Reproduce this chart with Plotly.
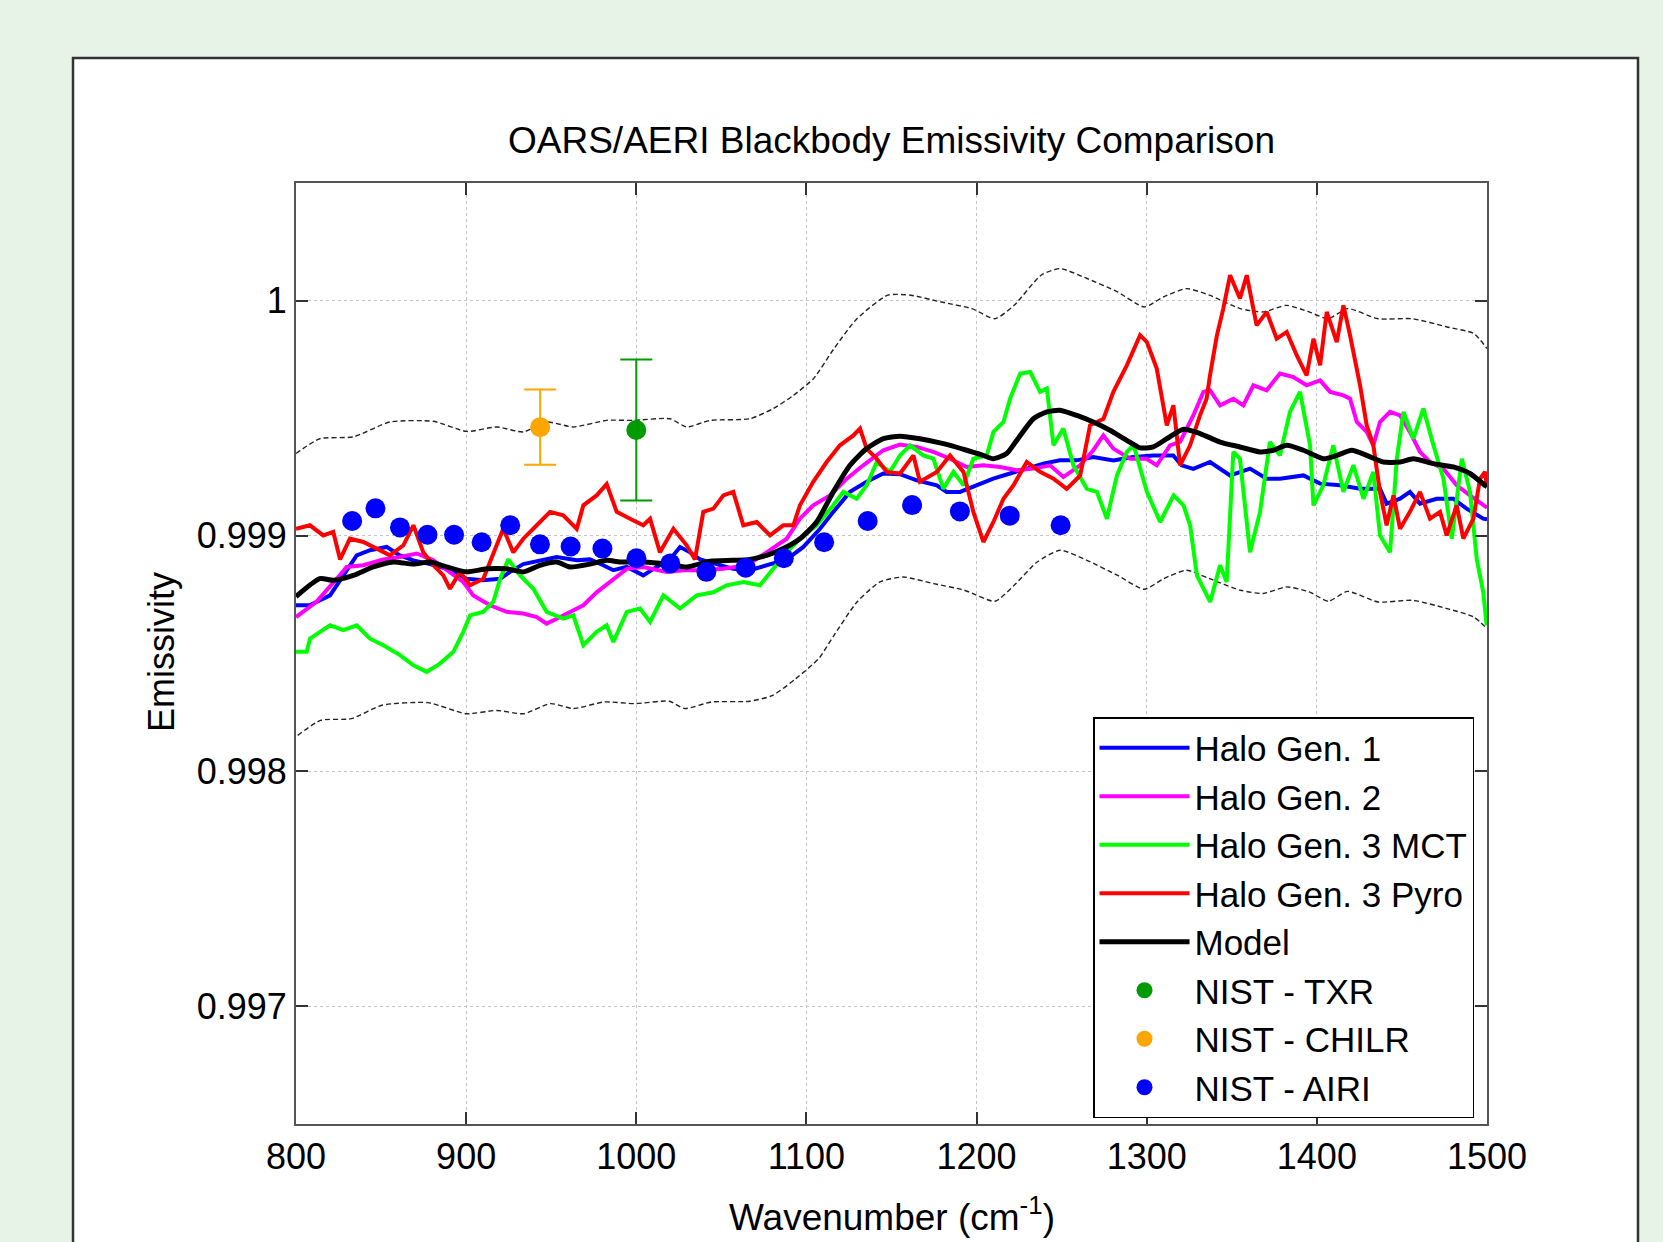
import plotly.graph_objects as go

# ---------------- data ----------------
gen1_wn = [800, 808, 820, 827.6, 835.7, 843.5, 853.3, 861, 869, 878.8, 888.6, 900.3, 910, 920, 925.8,
           933.6, 945.4, 953.2, 965, 972.8, 980.6, 986.5, 994.4, 1004.1, 1012, 1019.8, 1025.7, 1031.6,
           1037.5, 1047.3, 1057, 1066.8, 1076.6, 1088.4, 1098.2, 1108, 1115.8, 1125.6, 1135.4, 1145.2,
           1155, 1164.8, 1176.6, 1182.4, 1190.3, 1200, 1209.8, 1219.7, 1229.5, 1239.2, 1249, 1258.9,
           1268.6, 1280.4, 1292.1, 1303.9, 1315.6, 1320.5, 1327.4, 1337.2, 1349, 1360.7, 1370.5, 1378.3,
           1392.1, 1401.9, 1413.6, 1425.4, 1437.1, 1441, 1448.9, 1454.7, 1460.6, 1470.4, 1480.2, 1488,
           1497.8, 1500]
gen1_val = [0.998705, 0.998705, 0.998747, 0.998832, 0.998917, 0.998939, 0.998953, 0.998917, 0.998896,
            0.99888, 0.99886, 0.998818, 0.998811, 0.998818, 0.998847, 0.99888, 0.998896, 0.99891,
            0.998896, 0.9989, 0.998875, 0.998854, 0.998868, 0.998832, 0.998868, 0.9989, 0.998953,
            0.99893, 0.9989, 0.99888, 0.99886, 0.998854, 0.998875, 0.9989, 0.998953, 0.99903, 0.999102,
            0.999187, 0.99923, 0.999265, 0.999262, 0.999236, 0.999215, 0.999187, 0.999187, 0.999215,
            0.999243, 0.999265, 0.999286, 0.999307, 0.999321, 0.999321, 0.999335, 0.999321, 0.999335,
            0.999342, 0.999342, 0.9993, 0.999285, 0.999314, 0.999257, 0.999286, 0.999243, 0.999243,
            0.999257, 0.999222, 0.999215, 0.9992, 0.9992, 0.999137, 0.999158, 0.999187, 0.999137,
            0.999158, 0.999158, 0.999116, 0.999073, 0.99907]

gen2_wn = [800, 812, 824, 829.8, 839.6, 851.3, 861.1, 871, 880.7, 890.5, 898.3, 904.2, 914, 923.8, 933.6,
           941.5, 947.3, 953.2, 961, 968.9, 976.7, 986.5, 994.4, 1004.1, 1017.9, 1027.6, 1037.5, 1051.2,
           1064.9, 1076.6, 1088.4, 1096.2, 1104, 1113.9, 1123.7, 1133.4, 1145.2, 1155, 1164.8, 1174.6,
           1184.4, 1194.2, 1203.9, 1213.8, 1223.6, 1233.4, 1243.2, 1251, 1260.8, 1268.6, 1274.5, 1280.4,
           1290.2, 1300, 1305.9, 1313.7, 1319.6, 1327.4, 1333.3, 1337.2, 1343.1, 1350.9, 1356.8, 1362.7,
           1370.5, 1378.3, 1386.2, 1394, 1401.9, 1407.8, 1415.6, 1419.5, 1423.5, 1429.3, 1433.2, 1437.1,
           1443, 1448.9, 1454.7, 1460.6, 1466.5, 1474.3, 1482.2, 1490, 1497.8, 1500]
gen2_val = [0.998655, 0.99872, 0.998818, 0.998868, 0.998875, 0.9989, 0.99891, 0.998925, 0.998896,
            0.998847, 0.998804, 0.998747, 0.998705, 0.998677, 0.99867, 0.998655, 0.998627, 0.998648,
            0.998677, 0.998705, 0.99876, 0.998818, 0.99886, 0.998868, 0.998847, 0.998854, 0.998854,
            0.99886, 0.998875, 0.99893, 0.998988, 0.999073, 0.99913, 0.999172, 0.999243, 0.9993,
            0.999364, 0.999388, 0.999378, 0.999357, 0.999328, 0.999293, 0.9993, 0.999293, 0.999279,
            0.999286, 0.9993, 0.99925, 0.9993, 0.999364, 0.999427, 0.999371, 0.999328, 0.999328, 0.9993,
            0.999385, 0.9994, 0.999512, 0.999612, 0.999619, 0.999555, 0.999583, 0.999555, 0.99964,
            0.999619, 0.99969, 0.999675, 0.99964, 0.999661, 0.999612, 0.999597, 0.999583, 0.999484,
            0.999442, 0.999385, 0.999484, 0.999527, 0.999512, 0.999442, 0.999357, 0.999314, 0.999286,
            0.999215, 0.999172, 0.99913, 0.99912]

mct_wn = [800, 806.3, 808.2, 814.1, 820, 827.8, 835.7, 843.5, 851.3, 861.1, 869, 876.8, 884.6, 892.5,
          898.3, 902.3, 910, 916, 920, 924.8, 931.7, 939.5, 947.3, 957.1, 963, 968.9, 976.7, 982.6, 986.5,
          994.4, 1002.2, 1008.1, 1015.9, 1025.7, 1035.5, 1045.3, 1053.1, 1062.9, 1072.7, 1080.5, 1088.4,
          1096.2, 1106, 1115.8, 1121.7, 1129.5, 1135.4, 1141.3, 1149.1, 1155, 1160.9, 1168.7, 1174.6,
          1180.5, 1186.4, 1192.3, 1198.1, 1206, 1209.9, 1215.8, 1219.7, 1225.6, 1231.5, 1237.3, 1241.3,
          1245.2, 1251, 1256.9, 1264.8, 1270.7, 1276.6, 1282.5, 1288.3, 1292.3, 1300.1, 1307.9, 1315.8,
          1321.6, 1325.5, 1329.5, 1337.3, 1343.1, 1347, 1350.9, 1354.8, 1360.7, 1366.6, 1372.4, 1378.3,
          1384.2, 1390.1, 1396, 1398, 1403.8, 1409.7, 1415.6, 1421.5, 1427.4, 1433.2, 1437.1, 1443,
          1447, 1450.9, 1456.7, 1462.6, 1468.5, 1474.4, 1479.3, 1485.2, 1490, 1494, 1497.8, 1499.8]
mct_val = [0.998507, 0.998507, 0.998563, 0.998592, 0.99862, 0.998599, 0.99862, 0.998563, 0.998535,
           0.998493, 0.99845, 0.998422, 0.998457, 0.998507, 0.998592, 0.998662, 0.998677, 0.99872,
           0.998818, 0.9989, 0.998832, 0.998775, 0.998677, 0.998648, 0.998662, 0.998535, 0.998592,
           0.99862, 0.998549, 0.998677, 0.998691, 0.998634, 0.998747, 0.998691, 0.998747, 0.99876,
           0.99879, 0.998804, 0.99879, 0.99886, 0.99893, 0.998988, 0.999045, 0.99913, 0.999187,
           0.999158, 0.999215, 0.999314, 0.999272, 0.999342, 0.999385, 0.999342, 0.999328, 0.9992,
           0.999272, 0.999215, 0.999328, 0.999342, 0.999442, 0.999484, 0.999583, 0.99969, 0.999697,
           0.999612, 0.999626, 0.999385, 0.999456, 0.9993, 0.9992, 0.999187, 0.999073, 0.999257,
           0.999357, 0.999385, 0.999187, 0.999059, 0.999172, 0.99913, 0.999045, 0.998832, 0.998719,
           0.998875, 0.998804, 0.999357, 0.999328, 0.99893, 0.999102, 0.999399, 0.999342, 0.999527,
           0.999612, 0.999385, 0.99913, 0.999215, 0.999385, 0.999187, 0.9993, 0.999158, 0.999272,
           0.999002, 0.99893, 0.999328, 0.999527, 0.999413, 0.999541, 0.999385, 0.999243, 0.998988,
           0.999328, 0.999187, 0.9989, 0.99876, 0.99862]

pyro_wn = [800, 808.2, 816, 821.9, 825.9, 831.7, 839.6, 847.4, 855.2, 863.1, 869, 874.8, 880.7, 886.6,
           890.5, 896.4, 902.3, 910.1, 916, 921.8, 927.7, 933.6, 941.5, 949.3, 957.1, 965, 968.9, 976.7,
           982.6, 988.5, 996.3, 1004.1, 1008.1, 1013.9, 1021.8, 1029.6, 1034.5, 1039.4, 1045.3, 1051.2,
           1057, 1062.9, 1070.8, 1078.6, 1086.4, 1092.3, 1096.2, 1104, 1111.9, 1119.7, 1127.6, 1131.5,
           1135.4, 1141.3, 1147.2, 1155, 1162.9, 1166.7, 1176.6, 1184.4, 1192.3, 1198.1, 1204, 1209.9,
           1215.8, 1221.7, 1229.5, 1237.3, 1245.2, 1253, 1260.9, 1266.7, 1274.6, 1280.4, 1288.3, 1296.1,
           1300.1, 1305.9, 1311.8, 1315.7, 1319.6, 1325.5, 1331.3, 1335.2, 1337.2, 1341.2, 1345, 1349,
           1354.8, 1358.8, 1364.6, 1370.5, 1376.4, 1382.3, 1388.2, 1394, 1398, 1401.9, 1405.8, 1411.7,
           1415.6, 1419.5, 1425.4, 1429.3, 1433.2, 1437.1, 1441, 1445, 1448.9, 1454.7, 1460.6, 1466.5,
           1472.4, 1476.3, 1482.2, 1486.1, 1492, 1495.9, 1498.8, 1500]
pyro_val = [0.99903, 0.999045, 0.999002, 0.999017, 0.9989, 0.998988, 0.998974, 0.998946, 0.998917,
            0.99896, 0.999045, 0.99893, 0.998875, 0.998832, 0.998775, 0.998847, 0.99879, 0.998818,
            0.99893, 0.99903, 0.99893, 0.998988, 0.999045, 0.999102, 0.999087, 0.99903, 0.99913,
            0.999172, 0.99922, 0.999102, 0.999073, 0.999045, 0.999073, 0.99893, 0.99903, 0.99896,
            0.9989, 0.999102, 0.999116, 0.999172, 0.999187, 0.999045, 0.999059, 0.999002, 0.999045,
            0.999045, 0.99913, 0.99923, 0.999314, 0.999385, 0.999427, 0.999456, 0.999371, 0.999328,
            0.999272, 0.999265, 0.999342, 0.99923, 0.999272, 0.999342, 0.999272, 0.999102, 0.998974,
            0.999059, 0.999158, 0.999215, 0.999314, 0.999272, 0.999243, 0.9992, 0.999257, 0.99947,
            0.999498, 0.999612, 0.999725, 0.999853, 0.999824, 0.999711, 0.99947, 0.999555, 0.9993,
            0.999385, 0.999512, 0.999583, 0.999682, 0.99985, 0.999966, 1.000108, 1.000009, 1.000108,
            0.999895, 0.999952, 0.999838, 0.999867, 0.999767, 0.999682, 0.999838, 0.999725, 0.999952,
            0.999824, 0.99998, 0.999853, 0.99964, 0.99947, 0.999385, 0.999187, 0.999045, 0.999172,
            0.99903, 0.999102, 0.999187, 0.999073, 0.999102, 0.999002, 0.99913, 0.998988, 0.999073,
            0.999243, 0.999272, 0.99921]

model_wn = [800, 814, 822, 833.7, 845.4, 857.2, 869, 878.8, 888.6, 900.3, 912.1, 923.8, 933.6, 943.4,
            953.2, 961, 972.8, 982.6, 990.4, 1004.1, 1017.9, 1029.6, 1043.4, 1057, 1066.8, 1076.6,
            1086.4, 1096.2, 1106, 1115.8, 1125.6, 1135.4, 1145.2, 1155, 1166.7, 1180.5, 1194.2, 1203.9,
            1209.8, 1217.7, 1223.6, 1233.4, 1241.3, 1249, 1258.9, 1268.6, 1278.4, 1288.3, 1296.1, 1303.9,
            1311.8, 1321.6, 1331.3, 1343.1, 1354.8, 1366.6, 1374.4, 1382.3, 1392.1, 1403.8, 1411.7,
            1420.5, 1429.3, 1439.1, 1448.9, 1456.7, 1468.5, 1480.2, 1490, 1498.8, 1500]
model_val = [0.998742, 0.998818, 0.998811, 0.998832, 0.998868, 0.998889, 0.99888, 0.998889, 0.998868,
             0.998847, 0.99886, 0.99886, 0.998847, 0.998875, 0.998889, 0.998868, 0.99888, 0.998896,
             0.998889, 0.998889, 0.99888, 0.998868, 0.998892, 0.998896, 0.9989, 0.998917, 0.998946,
             0.998988, 0.999059, 0.999187, 0.9993, 0.999371, 0.999413, 0.999424, 0.999413, 0.999392,
             0.999364, 0.999342, 0.999328, 0.99935, 0.999406, 0.999498, 0.999527, 0.999534, 0.999512,
             0.999484, 0.999449, 0.999406, 0.999374, 0.999378, 0.999413, 0.999453, 0.999435, 0.999399,
             0.999378, 0.999357, 0.999364, 0.999385, 0.999364, 0.999328, 0.999342, 0.999364, 0.999342,
             0.999314, 0.999314, 0.999328, 0.999307, 0.999293, 0.999265, 0.999215, 0.99921]

upper_wn = [800, 814, 833.7, 855.2, 880.7, 900.3, 918, 933.6, 947.3, 963, 982.6, 998.3, 1019.8, 1029.6,
            1043.4, 1066.8, 1080.5, 1092.3, 1104.1, 1116.2, 1129.7, 1147.8, 1161.3, 1179.3, 1197.3,
            1210.8, 1222.1, 1237.9, 1249.1, 1264.9, 1282.9, 1298.6, 1309.9, 1323.4, 1336.9, 1355, 1368.5,
            1382, 1395.5, 1406.7, 1418, 1436, 1456.3, 1476.5, 1492.3, 1500]
upper_val = [0.99935, 0.999413, 0.999421, 0.999484, 0.999487, 0.999444, 0.999463, 0.999442, 0.999484,
             0.999463, 0.999491, 0.999491, 0.999498, 0.999463, 0.999491, 0.999498, 0.999541, 0.999597,
             0.999668, 0.999796, 0.999923, 1.000023, 1.000023, 0.999994, 0.999966, 0.999923, 0.99998,
             1.000108, 1.000136, 1.000094, 1.000037, 0.999973, 1.000016, 1.000051, 1.000023, 0.999966,
             0.999952, 0.99998, 0.999952, 0.999923, 0.999966, 0.999923, 0.999923, 0.999888, 0.99986,
             0.999796]

lower_wn = [801, 814.5, 832.5, 850.5, 877.6, 900, 918.1, 933.8, 949.6, 963.1, 981.1, 999.1, 1019.4,
            1028.4, 1044.2, 1066.7, 1080.2, 1093.7, 1107.2, 1116.2, 1129.7, 1143.2, 1156.8, 1174.8,
            1192.8, 1210.8, 1222.1, 1235.6, 1249.1, 1264.9, 1282.9, 1298.6, 1309.9, 1323.4, 1336.9,
            1355, 1368.5, 1382, 1395.5, 1406.7, 1418, 1436, 1456.3, 1476.5, 1492.3, 1500]
lower_val = [0.998152, 0.998216, 0.998223, 0.99828, 0.998291, 0.998244, 0.998258, 0.998244, 0.998287,
             0.998266, 0.998294, 0.998287, 0.998297, 0.998266, 0.998294, 0.998297, 0.998322, 0.998393,
             0.998478, 0.998577, 0.998719, 0.998804, 0.998825, 0.998797, 0.998769, 0.998722, 0.99879,
             0.998889, 0.998939, 0.998896, 0.998832, 0.998773, 0.998818, 0.998854, 0.998818, 0.998769,
             0.998755, 0.998783, 0.998762, 0.998722, 0.998764, 0.998719, 0.998726, 0.998691, 0.998655,
             0.998606]

airi_wn = [833.0, 846.7, 861.1, 877.3, 892.9, 909.1, 925.9, 943.4, 961.4, 980.1, 1000.1, 1020.0, 1041.2,
           1064.3, 1086.7, 1110.4, 1136.0, 1162.1, 1190.2, 1219.5, 1249.4]
airi_val = [0.999063, 0.999117, 0.999036, 0.999005, 0.999005, 0.998973, 0.999045, 0.998964, 0.998955,
            0.998946, 0.998905, 0.998883, 0.998847, 0.998865, 0.998905, 0.998973, 0.999063, 0.999131,
            0.999104, 0.999086, 0.999045]

txr_wn = [1000]
txr_val = [0.99945]
txr_err = [0.0003]

chilr_wn = [943.5]
chilr_val = [0.999462]
chilr_err = [0.00016]

x_ticks = [800, 900, 1000, 1100, 1200, 1300, 1400, 1500]
y_ticks = [0.997, 0.998, 0.999, 1.0]
y_ticktext = ["0.997", "0.998", "0.999", "1"]

# ---------------- figure ----------------
FONT = "Liberation Sans, Arial, Helvetica, sans-serif"
fig = go.Figure()

dash_style = "5px,3px"
fig.add_trace(go.Scatter(x=upper_wn, y=upper_val, mode="lines", showlegend=False,
                         line=dict(color="#222222", width=1.4, dash=dash_style, shape="spline", smoothing=0.6)))
fig.add_trace(go.Scatter(x=lower_wn, y=lower_val, mode="lines", showlegend=False,
                         line=dict(color="#222222", width=1.4, dash=dash_style, shape="spline", smoothing=0.6)))

fig.add_trace(go.Scatter(x=gen1_wn, y=gen1_val, mode="lines", name="Halo Gen. 1",
                         line=dict(color="#0000FF", width=4)))
fig.add_trace(go.Scatter(x=gen2_wn, y=gen2_val, mode="lines", name="Halo Gen. 2",
                         line=dict(color="#FF00FF", width=4)))
fig.add_trace(go.Scatter(x=mct_wn, y=mct_val, mode="lines", name="Halo Gen. 3 MCT",
                         line=dict(color="#00FF00", width=4)))
fig.add_trace(go.Scatter(x=pyro_wn, y=pyro_val, mode="lines", name="Halo Gen. 3 Pyro",
                         line=dict(color="#FF0000", width=4)))
fig.add_trace(go.Scatter(x=model_wn, y=model_val, mode="lines", name="Model",
                         line=dict(color="#000000", width=5, shape="spline", smoothing=0.6)))
fig.add_trace(go.Scatter(x=txr_wn, y=txr_val, mode="markers", name="NIST - TXR",
                         marker=dict(color="#009B00", size=20),
                         error_y=dict(type="data", array=txr_err, color="#009B00", thickness=2, width=16)))
fig.add_trace(go.Scatter(x=chilr_wn, y=chilr_val, mode="markers", name="NIST - CHILR",
                         marker=dict(color="#FFA500", size=20),
                         error_y=dict(type="data", array=chilr_err, color="#FFA500", thickness=2, width=16)))
fig.add_trace(go.Scatter(x=airi_wn, y=airi_val, mode="markers", name="NIST - AIRI",
                         marker=dict(color="#0000FF", size=20)))

W, H = 1663, 1242
L, R, T, B = 296, 1487, 183, 1124
pw, ph = R - L, B - T

def px(xp):
    return (xp - L) / pw

def py(yp):
    return (B - yp) / ph

axis_common = dict(
    showline=True, linecolor="#555555", linewidth=2, mirror="ticks",
    ticks="inside", ticklen=12, tickwidth=1.5, tickcolor="#333333",
    showgrid=True, gridcolor="#C4C4C4", gridwidth=1, griddash="dot",
    zeroline=False, tickfont=dict(family=FONT, size=36, color="#000000"),
)

fig.update_layout(
    width=W, height=H,
    margin=dict(l=L, r=W - R, t=T, b=H - B, pad=0),
    paper_bgcolor="#E8F3E7", plot_bgcolor="#FFFFFF",
    font=dict(family=FONT, color="#000000"),
    title=dict(text="OARS/AERI Blackbody Emissivity Comparison", x=0.5, xref="paper",
               y=1 - 140 / H, yref="container", yanchor="middle", xanchor="center",
               font=dict(family=FONT, size=37, color="#000000")),
    xaxis=dict(range=[800, 1500], tickvals=x_ticks, **axis_common),
    yaxis=dict(range=[0.9965, 1.0005], tickvals=y_ticks, ticktext=y_ticktext, **axis_common),
    showlegend=True,
    legend=dict(x=px(1474), y=py(717), xanchor="right", yanchor="top",
                bgcolor="#FFFFFF", bordercolor="#000000", borderwidth=1.5,
                font=dict(family=FONT, size=35, color="#000000"),
                traceorder="normal", itemwidth=90, entrywidth=290, entrywidthmode="pixels"),
    shapes=[dict(type="rect", xref="paper", yref="paper", x0=px(73), x1=px(1638), y0=py(1260), y1=py(58),
                 fillcolor="#FFFFFF", line=dict(color="#333333", width=2.5), layer="below")],
    annotations=[
        dict(text="Wavenumber (cm<sup>-1</sup>)", xref="paper", yref="paper", x=0.5, y=py(1214),
             xanchor="center", yanchor="middle", showarrow=False,
             font=dict(family=FONT, size=37, color="#000000")),
        dict(text="Emissivity", xref="paper", yref="paper", x=px(161), y=py(652), textangle=-90,
             xanchor="center", yanchor="middle", showarrow=False,
             font=dict(family=FONT, size=36, color="#000000")),
    ],
)

fig.write_html("out.html", config={"displayModeBar": False})
